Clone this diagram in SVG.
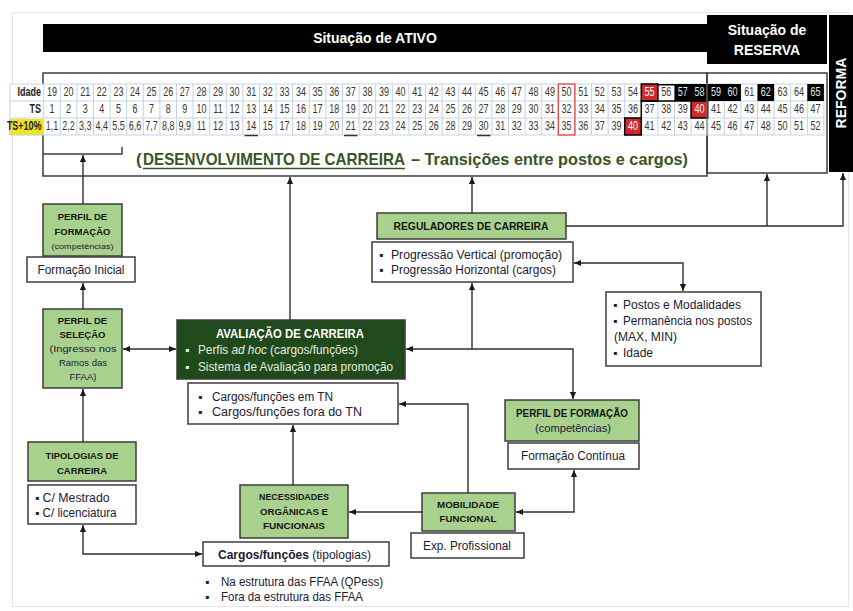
<svg xmlns="http://www.w3.org/2000/svg" width="853" height="611" viewBox="0 0 853 611">
  <defs>
    <style>
      .t{font-family:"Liberation Sans",Arial,sans-serif;font-size:12px;fill:#1c2033}
      .b{font-weight:bold}
      .c{text-anchor:middle}
      .hd{font-family:"Liberation Sans",Arial,sans-serif;font-weight:bold;font-size:9.5px;fill:#151515;text-anchor:middle}
      .wt{font-family:"Liberation Sans",Arial,sans-serif;font-weight:bold;font-size:14px;fill:#fff;text-anchor:middle}
      .num{font-family:"Liberation Sans",Arial,sans-serif;font-size:12px;fill:#3a3530;text-anchor:middle}
      .lbl{font-family:"Liberation Sans",Arial,sans-serif;font-size:12px;font-weight:bold;fill:#222;text-anchor:end}
      .box{stroke:#3c3c3c;stroke-width:1.5}
      .green{fill:#a9d18e}
      .white{fill:#fff}
      .frame{fill:none;stroke:#3c3c3c;stroke-width:1.5}
      .conn{fill:none;stroke:#2e2e2e;stroke-width:1.4}
      .grid{fill:none;stroke:#c3d3e6;stroke-width:1}
    </style>
    <marker id="ah" viewBox="0 0 8 8" refX="8" refY="4" markerWidth="7" markerHeight="7" markerUnits="userSpaceOnUse" orient="auto-start-reverse">
      <path d="M0,0.5 L8,4 L0,7.5 z" fill="#1a1a1a"/>
    </marker>
  </defs>

  <rect width="853" height="611" fill="#fff"/>
  <rect x="12.5" y="12.5" width="836" height="594" fill="none" stroke="#e6e6e6" stroke-width="1"/>

  <!-- status headers -->
  <g id="ativo">
    <rect x="43" y="24" width="664" height="28" fill="#000"/>
    <text class="wt" x="375" y="43">Situação de ATIVO</text>
  </g>
  <g id="reserva">
    <rect x="707" y="15" width="120" height="49" fill="#000"/>
    <text class="wt" x="767" y="35">Situação de</text>
    <text class="wt" x="767" y="55">RESERVA</text>
  </g>
  <g id="reforma">
    <rect x="829" y="15" width="24" height="157" fill="#000"/>
    <text class="wt" transform="translate(846,93) rotate(-90)">REFORMA</text>
  </g>

  <!-- career development frame with age / service table -->
  <g id="desenvolvimento">
    <rect class="frame" x="43" y="73" width="664" height="103"/>
    <rect class="frame" x="707" y="73" width="120" height="100"/>
    <path class="frame" d="M43,154 H122 V147"/>

    <rect x="10" y="84" width="814" height="51" fill="#fff"/>
    <rect x="9" y="119" width="34" height="16" fill="#f2e41c"/>
    <path class="grid" d="M10,84 H824 M10,101 H824 M10,118 H824 M10,135 H824 M10,84 V135
      M43.7,84 v51 m16.6,-51 v51 m16.6,-51 v51 m16.6,-51 v51 m16.6,-51 v51 m16.6,-51 v51 m16.6,-51 v51 m16.6,-51 v51
      m16.6,-51 v51 m16.6,-51 v51 m16.6,-51 v51 m16.6,-51 v51 m16.6,-51 v51 m16.6,-51 v51 m16.6,-51 v51 m16.6,-51 v51
      m16.6,-51 v51 m16.6,-51 v51 m16.6,-51 v51 m16.6,-51 v51 m16.6,-51 v51 m16.6,-51 v51 m16.6,-51 v51 m16.6,-51 v51
      m16.6,-51 v51 m16.6,-51 v51 m16.6,-51 v51 m16.6,-51 v51 m16.6,-51 v51 m16.6,-51 v51 m16.6,-51 v51 m16.6,-51 v51
      m16.6,-51 v51 m16.6,-51 v51 m16.6,-51 v51 m16.6,-51 v51 m16.6,-51 v51 m16.6,-51 v51 m16.6,-51 v51 m16.6,-51 v51
      m16.6,-51 v51 m16.6,-51 v51 m16.6,-51 v51 m16.6,-51 v51 m16.6,-51 v51 m16.6,-51 v51 m16.6,-51 v51 m16.6,-51 v51"/>

    <!-- highlighted cells -->
    <rect x="558.3" y="84" width="16.6" height="51" fill="none" stroke="#e8463c" stroke-width="1.3"/>
    <rect x="641.3" y="84" width="16.6" height="17" fill="#d3272a" stroke="#000" stroke-width="1.5"/>
    <rect x="674.5" y="84" width="66.4" height="17" fill="#000"/>
    <rect x="757.5" y="84" width="16.6" height="17" fill="#000"/>
    <rect x="807.3" y="84" width="16.6" height="17" fill="#000"/>
    <rect x="691.1" y="101" width="16.6" height="17" fill="#d3272a" stroke="#000" stroke-width="1.5"/>
    <rect x="624.7" y="118" width="16.6" height="17" fill="#d3272a" stroke="#000" stroke-width="1.5"/>
    <path d="M657.9,84.7 H675 M641.3,118 V101 H691.1" fill="none" stroke="#000" stroke-width="1.5"/>
    <path d="M244.5,135.5 H258 M344,135.5 H357.5 M477,135.5 H490.5" stroke="#333" stroke-width="1.5"/>
    <line x1="707" y1="84" x2="707" y2="135" stroke="#777" stroke-width="1.2"/>

    <!-- narrow table lettering: x values are divided by the 0.75 horizontal scale -->
    <g transform="scale(0.75,1)">
      <text class="lbl" x="54.7" y="96.5">Idade</text>
      <text class="lbl" x="54.7" y="113.5">TS</text>
      <text class="lbl" x="55.5" y="130.5">TS+10%</text>

      <text class="num" y="96.5"><tspan x="69.33">19</tspan><tspan x="91.47">20</tspan><tspan x="113.6">21</tspan><tspan x="135.73">22</tspan><tspan x="157.87">23</tspan><tspan x="180">24</tspan><tspan x="202.13">25</tspan><tspan x="224.27">26</tspan><tspan x="246.4">27</tspan><tspan x="268.53">28</tspan><tspan x="290.67">29</tspan><tspan x="312.8">30</tspan><tspan x="334.93">31</tspan><tspan x="357.07">32</tspan><tspan x="379.2">33</tspan><tspan x="401.33">34</tspan><tspan x="423.47">35</tspan><tspan x="445.6">36</tspan><tspan x="467.73">37</tspan><tspan x="489.87">38</tspan><tspan x="512">39</tspan><tspan x="534.13">40</tspan><tspan x="556.27">41</tspan><tspan x="578.4">42</tspan><tspan x="600.53">43</tspan><tspan x="622.67">44</tspan><tspan x="644.8">45</tspan><tspan x="666.93">46</tspan><tspan x="689.07">47</tspan><tspan x="711.2">48</tspan><tspan x="733.33">49</tspan><tspan x="755.47">50</tspan><tspan x="777.6">51</tspan><tspan x="799.73">52</tspan><tspan x="821.87">53</tspan><tspan x="844">54</tspan><tspan x="866.13" fill="#fff">55</tspan><tspan x="888.27">56</tspan><tspan x="910.4" fill="#e6e6e6">57</tspan><tspan x="932.53" fill="#e6e6e6">58</tspan><tspan x="954.67" fill="#e6e6e6">59</tspan><tspan x="976.8" fill="#e6e6e6">60</tspan><tspan x="998.93">61</tspan><tspan x="1021.07" fill="#e6e6e6">62</tspan><tspan x="1043.2">63</tspan><tspan x="1065.33">64</tspan><tspan x="1087.47" fill="#e6e6e6">65</tspan></text>

      <text class="num" y="113.5"><tspan x="69.33">1</tspan><tspan x="91.47">2</tspan><tspan x="113.6">3</tspan><tspan x="135.73">4</tspan><tspan x="157.87">5</tspan><tspan x="180">6</tspan><tspan x="202.13">7</tspan><tspan x="224.27">8</tspan><tspan x="246.4">9</tspan><tspan x="268.53">10</tspan><tspan x="290.67">11</tspan><tspan x="312.8">12</tspan><tspan x="334.93">13</tspan><tspan x="357.07">14</tspan><tspan x="379.2">15</tspan><tspan x="401.33">16</tspan><tspan x="423.47">17</tspan><tspan x="445.6">18</tspan><tspan x="467.73">19</tspan><tspan x="489.87">20</tspan><tspan x="512">21</tspan><tspan x="534.13">22</tspan><tspan x="556.27">23</tspan><tspan x="578.4">24</tspan><tspan x="600.53">25</tspan><tspan x="622.67">26</tspan><tspan x="644.8">27</tspan><tspan x="666.93">28</tspan><tspan x="689.07">29</tspan><tspan x="711.2">30</tspan><tspan x="733.33">31</tspan><tspan x="755.47">32</tspan><tspan x="777.6">33</tspan><tspan x="799.73">34</tspan><tspan x="821.87">35</tspan><tspan x="844">36</tspan><tspan x="866.13">37</tspan><tspan x="888.27">38</tspan><tspan x="910.4">39</tspan><tspan x="932.53" fill="#fff">40</tspan><tspan x="954.67">41</tspan><tspan x="976.8">42</tspan><tspan x="998.93">43</tspan><tspan x="1021.07">44</tspan><tspan x="1043.2">45</tspan><tspan x="1065.33">46</tspan><tspan x="1087.47">47</tspan></text>

      <text class="num" y="130.5"><tspan x="69.33">1,1</tspan><tspan x="91.47">2,2</tspan><tspan x="113.6">3,3</tspan><tspan x="135.73">4,4</tspan><tspan x="157.87">5,5</tspan><tspan x="180">6,6</tspan><tspan x="202.13">7,7</tspan><tspan x="224.27">8,8</tspan><tspan x="246.4">9,9</tspan><tspan x="268.53">11</tspan><tspan x="290.67">12</tspan><tspan x="312.8">13</tspan><tspan x="334.93">14</tspan><tspan x="357.07">15</tspan><tspan x="379.2">17</tspan><tspan x="401.33">18</tspan><tspan x="423.47">19</tspan><tspan x="445.6">20</tspan><tspan x="467.73">21</tspan><tspan x="489.87">22</tspan><tspan x="512">23</tspan><tspan x="534.13">24</tspan><tspan x="556.27">25</tspan><tspan x="578.4">26</tspan><tspan x="600.53">28</tspan><tspan x="622.67">29</tspan><tspan x="644.8">30</tspan><tspan x="666.93">31</tspan><tspan x="689.07">32</tspan><tspan x="711.2">33</tspan><tspan x="733.33">34</tspan><tspan x="755.47">35</tspan><tspan x="777.6">36</tspan><tspan x="799.73">37</tspan><tspan x="821.87">39</tspan><tspan x="844" fill="#fff">40</tspan><tspan x="866.13">41</tspan><tspan x="888.27">42</tspan><tspan x="910.4">43</tspan><tspan x="932.53">44</tspan><tspan x="954.67">45</tspan><tspan x="976.8">46</tspan><tspan x="998.93">47</tspan><tspan x="1021.07">48</tspan><tspan x="1043.2">50</tspan><tspan x="1065.33">51</tspan><tspan x="1087.47">52</tspan></text>
    </g>

    <text class="t b" x="136" y="165" style="font-size:17px;fill:#3a5424">(</text>
    <text class="t b" x="143" y="165" style="font-size:17px;fill:#3a5424" textLength="262" lengthAdjust="spacingAndGlyphs">DESENVOLVIMENTO  DE CARREIRA</text>
    <line x1="143" y1="168.5" x2="405" y2="168.5" stroke="#3a5424" stroke-width="1.3"/>
    <text class="t b" x="411" y="165" style="font-size:17px;fill:#3a5424" textLength="277" lengthAdjust="spacingAndGlyphs">– Transições entre postos e cargos)</text>
  </g>

  <!-- nodes -->
  <g id="perfil-formacao-inicial">
    <rect class="box green" x="43" y="204" width="79" height="52"/>
    <text class="hd" x="82.5" y="220">PERFIL DE</text>
    <text class="hd" x="82.5" y="235">FORMAÇÃO</text>
    <text class="t c" x="82.5" y="248.5" style="font-size:7.5px" textLength="62" lengthAdjust="spacingAndGlyphs">(competências)</text>
  </g>
  <g id="formacao-inicial">
    <rect class="box white" x="27" y="257" width="108" height="25"/>
    <text class="t c" x="81" y="274" textLength="87" lengthAdjust="spacingAndGlyphs">Formação Inicial</text>
  </g>
  <g id="perfil-selecao">
    <rect class="box green" x="43" y="309" width="79" height="79"/>
    <text class="hd" x="82.5" y="324">PERFIL DE</text>
    <text class="hd" x="82.5" y="338">SELEÇÃO</text>
    <text class="t c" x="83" y="352" style="font-size:9.5px" textLength="67" lengthAdjust="spacingAndGlyphs">(Ingresso nos</text>
    <text class="t c" x="83" y="366" style="font-size:9.5px">Ramos das</text>
    <text class="t c" x="83" y="380" style="font-size:9.5px">FFAA)</text>
  </g>
  <g id="tipologias-carreira">
    <rect class="box green" x="28" y="442" width="108" height="39"/>
    <text class="hd" x="82" y="459" textLength="73" lengthAdjust="spacingAndGlyphs">TIPOLOGIAS DE</text>
    <text class="hd" x="82" y="474">CARREIRA</text>
  </g>
  <g id="habilitacoes">
    <rect class="box white" x="28" y="485" width="108" height="39"/>
    <text class="t" x="35" y="502">▪ <tspan textLength="67" lengthAdjust="spacingAndGlyphs">C/ Mestrado</tspan></text>
    <text class="t" x="35" y="517">▪ <tspan textLength="74" lengthAdjust="spacingAndGlyphs">C/ licenciatura</tspan></text>
  </g>
  <g id="avaliacao-carreira">
    <rect class="box" x="177" y="320" width="228" height="59" fill="#214a1c"/>
    <text class="t b c" x="290" y="337.5" style="fill:#fff" textLength="148" lengthAdjust="spacingAndGlyphs">AVALIAÇÃO DE CARREIRA</text>
    <text class="t" x="185" y="354" style="fill:#e4eedc">▪</text>
    <text class="t" x="198" y="354" style="fill:#e4eedc" textLength="160" lengthAdjust="spacingAndGlyphs">Perfis <tspan font-style="italic">ad hoc</tspan> (cargos/funções)</text>
    <text class="t" x="185" y="371" style="fill:#e4eedc">▪</text>
    <text class="t" x="198" y="371" style="fill:#e4eedc" textLength="195" lengthAdjust="spacingAndGlyphs">Sistema de Avaliação para promoção</text>
  </g>
  <g id="cargos-tn">
    <rect class="box white" x="188" y="383" width="210" height="41"/>
    <text class="t" x="198" y="401">▪</text>
    <text class="t" x="212" y="401" textLength="121" lengthAdjust="spacingAndGlyphs">Cargos/funções em TN</text>
    <text class="t" x="198" y="416">▪</text>
    <text class="t" x="212" y="416" textLength="150" lengthAdjust="spacingAndGlyphs">Cargos/funções fora do TN</text>
  </g>
  <g id="reguladores-carreira">
    <rect class="box green" x="377" y="213" width="189" height="26"/>
    <text class="hd" x="471" y="230" style="font-size:11px" textLength="155" lengthAdjust="spacingAndGlyphs">REGULADORES DE CARREIRA</text>
  </g>
  <g id="progressao">
    <rect class="box white" x="372" y="242" width="201" height="40"/>
    <text class="t" x="379" y="259">▪</text>
    <text class="t" x="391" y="259" textLength="171" lengthAdjust="spacingAndGlyphs">Progressão Vertical (promoção)</text>
    <text class="t" x="379" y="274">▪</text>
    <text class="t" x="391" y="274" textLength="165" lengthAdjust="spacingAndGlyphs">Progressão Horizontal (cargos)</text>
  </g>
  <g id="postos">
    <rect class="box white" x="606" y="292" width="155" height="74"/>
    <text class="t" x="613" y="309">▪</text>
    <text class="t" x="623" y="309" textLength="118" lengthAdjust="spacingAndGlyphs">Postos e Modalidades</text>
    <text class="t" x="613" y="325">▪</text>
    <text class="t" x="623" y="325" textLength="129" lengthAdjust="spacingAndGlyphs">Permanência nos postos</text>
    <text class="t" x="614" y="341" textLength="63" lengthAdjust="spacingAndGlyphs">(MAX, MIN)</text>
    <text class="t" x="613" y="357">▪</text>
    <text class="t" x="623" y="357" textLength="30" lengthAdjust="spacingAndGlyphs">Idade</text>
  </g>
  <g id="perfil-formacao-continua">
    <rect class="box green" x="505" y="400" width="134" height="41"/>
    <text class="hd" x="572" y="417" style="font-size:10.5px" textLength="112" lengthAdjust="spacingAndGlyphs">PERFIL DE FORMAÇÃO</text>
    <text class="t c" x="573" y="432" style="font-size:11px" textLength="76" lengthAdjust="spacingAndGlyphs">(competências)</text>
  </g>
  <g id="formacao-continua">
    <rect class="box white" x="508" y="443" width="131" height="26"/>
    <text class="t c" x="573" y="460" textLength="104" lengthAdjust="spacingAndGlyphs">Formação Contínua</text>
  </g>
  <g id="necessidades">
    <rect class="box green" x="240" y="485" width="108" height="53"/>
    <text class="hd" x="294" y="500" textLength="70" lengthAdjust="spacingAndGlyphs">NECESSIDADES</text>
    <text class="hd" x="294" y="515" textLength="68" lengthAdjust="spacingAndGlyphs">ORGÂNICAS E</text>
    <text class="hd" x="294" y="529" textLength="62" lengthAdjust="spacingAndGlyphs">FUNCIONAIS</text>
  </g>
  <g id="mobilidade">
    <rect class="box green" x="422" y="493" width="93" height="38"/>
    <text class="hd" x="468" y="508" textLength="62" lengthAdjust="spacingAndGlyphs">MOBILIDADE</text>
    <text class="hd" x="468" y="522" textLength="57" lengthAdjust="spacingAndGlyphs">FUNCIONAL</text>
  </g>
  <g id="exp-profissional">
    <rect class="box white" x="411" y="533" width="113" height="25"/>
    <text class="t c" x="467" y="550" textLength="88" lengthAdjust="spacingAndGlyphs">Exp. Profissional</text>
  </g>
  <g id="cargos-tipologias">
    <rect class="box white" x="203" y="542" width="186" height="24"/>
    <text class="t" x="218" y="559" textLength="153" lengthAdjust="spacingAndGlyphs"><tspan font-weight="bold">Cargos/funções</tspan> (tipologias)</text>
    <text class="t" x="205" y="586">▪</text>
    <text class="t" x="221" y="586" textLength="162" lengthAdjust="spacingAndGlyphs">Na estrutura das FFAA (QPess)</text>
    <text class="t" x="205" y="601">▪</text>
    <text class="t" x="221" y="601" textLength="142" lengthAdjust="spacingAndGlyphs">Fora da estrutura das FFAA</text>
  </g>

  <!-- connectors -->
  <g id="connectors" class="conn">
    <path d="M83,204 V155" marker-end="url(#ah)"/>
    <path d="M83,309 V283" marker-end="url(#ah)"/>
    <path d="M83,442 V389" marker-end="url(#ah)"/>
    <path d="M123,349 H176" marker-start="url(#ah)" marker-end="url(#ah)"/>
    <path d="M290,320 V177" marker-end="url(#ah)"/>
    <path d="M472,213 V177" marker-end="url(#ah)"/>
    <path d="M566,226 H843 V173" marker-end="url(#ah)"/>
    <path d="M767,226 V174" marker-end="url(#ah)"/>
    <path d="M574,263 H683 V291" marker-start="url(#ah)" marker-end="url(#ah)"/>
    <path d="M472,349 V283" marker-end="url(#ah)"/>
    <path d="M472,349 H406" marker-end="url(#ah)"/>
    <path d="M472,349 H573 V399" marker-end="url(#ah)"/>
    <path d="M468,493 V404 H399" marker-end="url(#ah)"/>
    <path d="M293,485 V425" marker-end="url(#ah)"/>
    <path d="M422,512 H349" marker-end="url(#ah)"/>
    <path d="M516,512 H574 V470" marker-start="url(#ah)" marker-end="url(#ah)"/>
    <path d="M83,525 V554 H202" marker-start="url(#ah)" marker-end="url(#ah)"/>
  </g>
</svg>
